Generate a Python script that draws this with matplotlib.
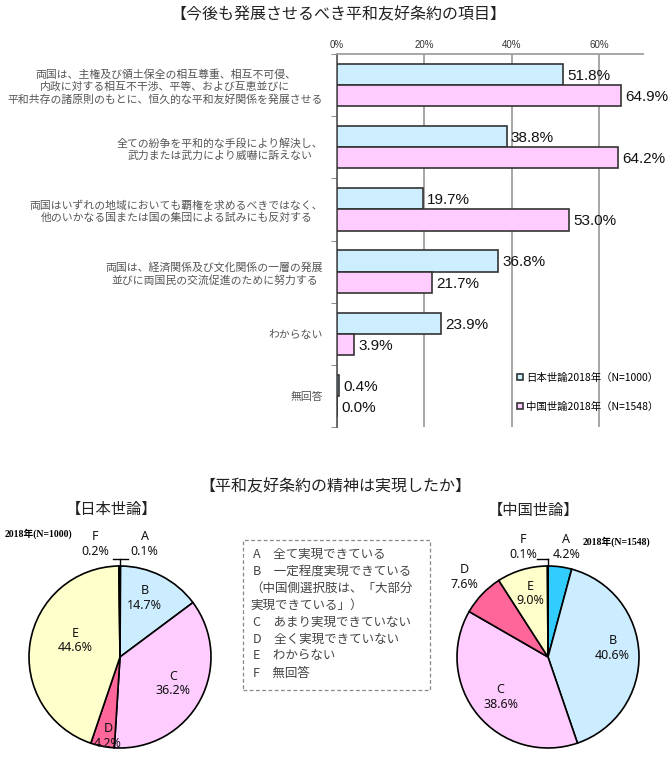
import numpy as np
import matplotlib
matplotlib.use('Agg')
from matplotlib import pyplot as plt
from matplotlib.patches import Rectangle

plt.rcParams['font.family'] = ['Noto Sans CJK JP', 'DejaVu Sans']

# ---- data: bar chart ----
items = ['両国は、主権及び領土保全の相互尊重、相互不可侵、\n内政に対する相互不干渉、平等、および互恵並びに\n平和共存の諸原則のもとに、恒久的な平和友好関係を発展させる',
         '全ての紛争を平和的な手段により解決し、\n武力または武力により威嚇に訴えない',
         '両国はいずれの地域においても覇権を求めるべきではなく、\n他のいかなる国または国の集団による試みにも反対する',
         '両国は、経済関係及び文化関係の一層の発展\n並びに両国民の交流促進のために努力する',
         'わからない',
         '無回答']
japan_2018 = [51.8, 38.8, 19.7, 36.8, 23.9, 0.4]
china_2018 = [64.9, 64.2, 53.0, 21.7, 3.9, 0.0]
series_names = ['日本世論2018年（N=1000）', '中国世論2018年（N=1548）']
x_ticks = [0, 20, 40, 60]

# ---- data: pies ----
pie_letters = ['A', 'B', 'C', 'D', 'E', 'F']
pie_japan = [0.1, 14.7, 36.2, 4.2, 44.6, 0.2]
pie_china = [4.2, 40.6, 38.6, 7.6, 9.0, 0.1]
pie_colors = ['#33CCFF', '#CCECFF', '#FFCCFF', '#FF6699', '#FFFFCC', '#FFFFFF']
legend_lines = ['A　全て実現できている', 'B　一定程度実現できている', '（中国側選択肢は、「大部分',
                '実現できている」）', 'C　あまり実現できていない', 'D　全く実現できていない',
                'E　わからない', 'F　無回答']

W, H = 670, 760
fig = plt.figure(figsize=(W / 100, H / 100), dpi=100)


def box(x0, y0, x1, y1):
    # pixel box (top-left origin) -> figure fraction
    return [x0 / W, 1 - y1 / H, (x1 - x0) / W, (y1 - y0) / H]


fig.text(338 / W, 1 - 15 / H, '【今後も発展させるべき平和友好条約の項目】', ha='center', va='center',
         fontsize=11.5, color='#222222')

# ---- bar chart ----
ax = fig.add_axes(box(337, 54, 643, 427))
y = np.arange(len(items))
h = 0.34
b1 = ax.barh(y - h / 2, japan_2018, height=h, color='#CCEEFF', edgecolor='#333333', lw=1.2, zorder=3)
b2 = ax.barh(y + h / 2, china_2018, height=h, color='#FFCCFF', edgecolor='#333333', lw=1.2, zorder=3)
for bars, vals in [(b1, japan_2018), (b2, china_2018)]:
    for r, v in zip(bars, vals):
        ax.annotate('%.1f%%' % v, (v, r.get_y() + r.get_height() / 2), xytext=(3, -1),
                    textcoords='offset points', va='center', ha='left', fontsize=11,
                    family='Liberation Sans', color='#111111', zorder=4)

ax.set_xlim(0, 70)
ax.set_ylim(len(items) - 0.5, -0.5)
ax.set_xticks(x_ticks)
ax.set_xticklabels(['%d%%' % t for t in x_ticks], family='Liberation Sans', fontsize=7, color='#333333')
ax.xaxis.tick_top()
ax.tick_params(axis='x', length=0, pad=3)
ax.grid(axis='x', color='#A0A0A0', lw=1.3, zorder=0)
ax.set_yticks(y)
ax.set_yticklabels(items, multialignment='center', fontsize=7.8, color='#555555', linespacing=1.25)
ax.set_yticks(np.arange(len(items) + 1) - 0.5, minor=True)
ax.tick_params(axis='y', which='major', length=0, pad=10)
ax.tick_params(axis='y', which='minor', length=4, color='#777777', direction='out')
for s in ['right', 'bottom']:
    ax.spines[s].set_visible(False)
ax.spines['top'].set_color('#A0A0A0')
ax.spines['top'].set_linewidth(1.3)
ax.spines['left'].set_color('#555555')
ax.spines['left'].set_linewidth(1.2)

leg = ax.legend([b1, b2], series_names, loc='lower left', bbox_to_anchor=(0.575, 0.03),
                frameon=False, handlelength=0.6, handleheight=0.6, handletextpad=0.3,
                labelspacing=1.8, fontsize=7.5, borderaxespad=0)

# ---- pies ----
fig.text(335 / W, 1 - 487 / H, '【平和友好条約の精神は実現したか】', ha='center', va='center',
         fontsize=11.5, color='#222222')
fig.text(112 / W, 1 - 509 / H, '【日本世論】', ha='center', va='center', fontsize=11, color='#222222')
fig.text(534 / W, 1 - 510 / H, '【中国世論】', ha='center', va='center', fontsize=11, color='#222222')
fig.text(5 / W, 1 - 534 / H, '2018年(N=1000)', ha='left', va='center', fontsize=7, weight='bold',
         family=['Liberation Serif', 'Noto Sans CJK JP'])
fig.text(583 / W, 1 - 542 / H, '2018年(N=1548)', ha='left', va='center', fontsize=7, weight='bold',
         family=['Liberation Serif', 'Noto Sans CJK JP'])

pie_font = dict(ha='center', va='center', fontsize=9, family='Noto Sans', linespacing=1.15, color='#111111')

# label positions in pie units (radius 1)
jp_pos = [(0.27, 1.24), (0.27, 0.65), (0.58, -0.29), (-0.13, -0.87), (-0.49, 0.18), (-0.27, 1.24)]
cn_pos = [(0.2, 1.21), (0.71, 0.10), (-0.52, -0.44), (-0.92, 0.88), (-0.19, 0.70), (-0.27, 1.21)]

for cx, vals, pos, lead in [(120, pie_japan, jp_pos, (-0.08, 0.09)), (548, pie_china, cn_pos, (-0.12, 0.0))]:
    pa = fig.add_axes(box(cx - 91, 566, cx + 91, 748))
    pa.pie(vals, colors=pie_colors, startangle=90, counterclock=False, radius=1,
           wedgeprops=dict(edgecolor='black', linewidth=1.2))
    pa.set_xlim(-1, 1)
    pa.set_ylim(-1, 1)
    for (px, py), letter, v in zip(pos, pie_letters, vals):
        pa.text(px, py, '%s\n%.1f%%' % (letter, v), **pie_font)
    pa.plot([0, 0], [1.0, 1.08], color='black', lw=1, clip_on=False)
    pa.plot([lead[0], lead[1]], [1.08, 1.08], color='black', lw=1, clip_on=False)

# legend box for pies
fig.patches.append(Rectangle((243 / W, 1 - 690 / H), (430 - 243) / W, (690 - 540) / H,
                             transform=fig.transFigure, fill=False, ls=(0, (3, 2)),
                             edgecolor='#888888', lw=0.9))
for i, line in enumerate(legend_lines):
    x0 = 250 if line.startswith('（') or line.startswith('実') else 253
    fig.text(x0 / W, 1 - (554 + i * 17) / H, line, ha='left', va='center', fontsize=9, color='#444444')

fig.savefig('out.png', dpi=100)
